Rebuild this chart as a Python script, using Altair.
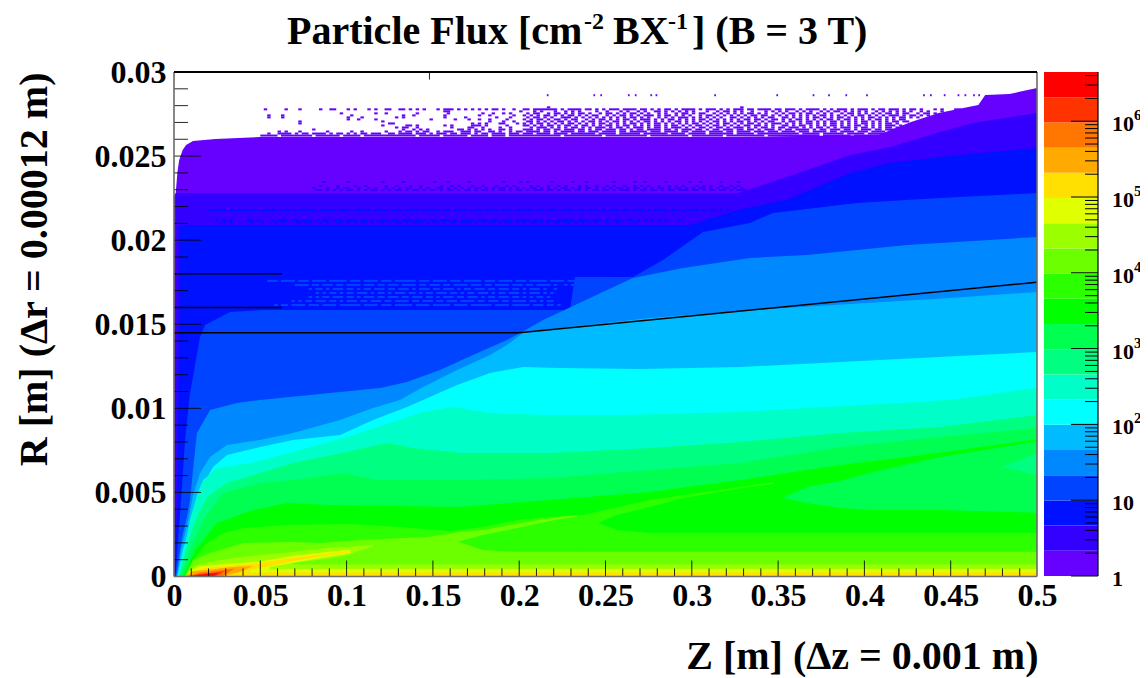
import altair as alt
import pandas as pd

alt.data_transformers.disable_max_rows()

SERIF = "Liberation Serif"
PAL = ["#6600ff", "#3300ff", "#0011ff", "#0044ff", "#0088ff", "#00bbff", "#00ffff", "#00ffc8", "#00ff80", "#00ff50",
       "#00ff00", "#2bff00", "#6cff00", "#9bff00", "#e0ff00", "#ffe000", "#ffaa00", "#ff7700", "#ff3300", "#ff0000"]
LEVELS = [1, 2.15, 4.62, 9.93, 21.4, 46, 98.9, 213, 457, 983, 2113, 4540, 9770, 21000, 45100, 97000, 208600, 448000,
          964000, 2073000, 4460000]

# Upper edge of each "flux above level" region: Z in m, R in mm
z0 = [0, .001, .002, .003, .005, .007, .011, .024, .05, .327, .362, .408, .427, .443, .466, .470, .484, .5]
r0 = [22.63, 22.80, 24.05, 24.77, 25.36, 25.66, 25.90, 26.02, 26.13, 26.13, 26.19, 26.25, 27.03, 27.56, 28.04, 28.63, 28.69, 29.05]
z1 = [.0002, .001, .327, .355, .392, .415, .444, .463, .5]
r1 = [0, 22.80, 22.80, 23.76, 25.07, 25.54, 26.43, 26.97, 27.56]
z2 = [.0005, .002, .003, .0032, .299, .327, .355, .392, .415, .444, .5]
r2 = [0, 4.55, 18.05, 20.90, 20.90, 21.80, 22.39, 24.00, 24.59, 24.95, 25.48]
z3 = [.0009, .0023, .0041, .0064, .0093, .0151, .018, .0324, .0527, .2294, .2323, .266, .2833, .3065, .3337, .347, .3957, .4438, .5]
r3 = [0, 2.17, 4.55, 8.12, 10.91, 14.24, 14.96, 15.73, 15.85, 15.85, 17.81, 17.81, 18.82, 20.49, 21.02, 21.62, 22.21, 22.51, 22.80]
z4 = [.0012, .0035, .0052, .0075, .0093, .011, .0133, .0209, .0365, .0498, .073, .0962, .1194, .135, .1541, .1732, .1929, .2016, .2138, .241, .2659, .2949, .3337, .3667, .4247, .5]
r4 = [0, 1.58, 2.59, 3.54, 4.55, 6.33, 8.53, 9.90, 10.32, 10.50, 10.73, 10.97, 11.21, 11.57, 12.28, 13.17, 14.06, 14.54, 15.25, 16.56, 17.75, 18.34, 18.94, 19.12, 19.71, 20.19]
z5 = [.0017, .0041, .0064, .0087, .011, .0151, .0209, .0307, .0498, .0689, .0962, .1153, .1309, .1443, .164, .1831, .1929, .2022, .2236, .2758, .3279, .3917, .4496, .5]
r5 = [0, 1.58, 2.59, 3.54, 4.85, 6.15, 7.11, 7.82, 8.12, 8.53, 9.31, 10.02, 10.50, 11.27, 12.28, 13.17, 13.77, 14.48, 14.78, 15.37, 15.79, 16.20, 16.56, 16.92]
z6 = [.002, .0052, .0081, .011, .0139, .0168, .0226, .0307, .0498, .0689, .0962, .1153, .135, .164, .1831, .2022, .2236, .27, .3279, .3859, .5]
r6 = [0, 1.58, 2.59, 3.54, 4.37, 5.44, 6.51, 7.22, 7.70, 8.12, 8.41, 9.31, 10.08, 11.39, 12.10, 12.46, 12.40, 12.34, 12.46, 12.75, 13.35]
z7 = [.0023, .0064, .0093, .0133, .0168, .0249, .044, .0689, .1002, .1251, .1443, .1616, .1831, .2178, .2567, .3279, .376, .4322, .4537, .5]
r7 = [0, 1.87, 3.36, 4.85, 5.74, 6.45, 6.75, 7.40, 8.30, 9.13, 9.78, 10.08, 9.72, 9.60, 9.60, 9.78, 10.08, 10.38, 10.56, 11.21]
z8 = [.0029, .007, .0104, .0133, .0191, .0307, .0689, .1002, .1234, .1385, .1657, .2178, .2758, .3279, .3859, .4438, .5]
r8 = [0, 1.58, 2.77, 3.54, 4.73, 5.56, 6.75, 7.40, 7.94, 7.64, 7.34, 7.34, 7.64, 8.00, 8.53, 8.89, 9.60]
z9 = [.0041, .0104, .0168, .0284, .0498, .0689, .0979, .1176, .1657, .2178, .2758, .3279, .3859, .4438, .5]
r9 = [0, 1.87, 3.36, 4.97, 5.56, 5.74, 6.15, 5.74, 5.74, 5.86, 6.33, 6.75, 7.70, 8.30, 8.83]
z10 = [.0052, .0122, .0249, .0458, .0655, .0886, .1657, .2178, .2758, .3279, .3859, .4247, .4977, .5]
r10 = [0, 1.58, 3.18, 3.95, 4.37, 4.25, 4.13, 4.55, 5.02, 5.74, 6.63, 7.11, 8.12, 8.18]
z11 = [.0058, .0122, .0191, .0284, .04, .0655, .1002, .1309, .1599, .179, .1987, .2178, .237, .2758, .3279, .347, .3492, .5]
r11 = [0, 1.10, 1.99, 2.59, 2.88, 3.06, 3.12, 2.94, 2.71, 2.94, 3.36, 3.54, 3.66, 4.55, 5.32, 5.62, 2.59, 2.59]
z12 = [.0064, .011, .0209, .04, .0689, .0846, .1078, .1466, .1657, .179, .1987, .2178, .2335, .234, .5]
r12 = [0, .98, 1.40, 1.99, 2.05, 1.99, 2.17, 2.35, 2.65, 2.77, 3.12, 3.48, 3.66, 1.47, 1.47]
z13 = [.007, .011, .0168, .0307, .0498, .0689, .0886, .1002, .1153, .1165, .5]
r13 = [0, .56, .80, 1.04, 1.28, 1.46, 1.69, 1.75, 1.87, .72, .72]
z14 = [.0075, .0093, .0151, .0307, .0498, .0689, .0886, .102, .103, .5]
r14 = [0, .39, .62, .74, .89, 1.22, 1.46, 1.61, .45, .45]
z15 = [.0075, .0104, .018, .0307, .0498, .0689, .0886, .1014, .102, .5]
r15 = [0, .27, .51, .62, .80, 1.10, 1.34, 1.52, .24, .24]
z16 = [.0064, .011, .0197, .0278, .0382, .0452]
r16 = [0, .33, .39, .51, .59, .62]
b16 = [0, 0, 0, 0, .27, .60]
z17 = [.007, .0151, .0278, .0353]
r17 = [0, .24, .39, .48]
b17 = [0, 0, 0, .47]
z18 = [.0075, .0151, .0238, .0295]
r18 = [0, .15, .24, .33]
b18 = [0, 0, 0, .32]
z19 = [.0087, .0139, .022, .0255]
r19 = [0, .09, .18, .21]
b19 = [0, 0, 0, .20]

# Low-flux lenses lying under the ridge: Z, upper R, lower R (mm)
lz_e0 = [.044, .0788, .1002, .1022]
lr_e0 = [.39, 1.10, 1.43, 1.45]
lb_e0 = [.24, .24, .24, .24]
lz_9b = [.0556, .0788, .1002, .1032]
lr_9b = [.57, 1.00, 1.35, 1.40]
lb_9b = [.45, .45, .45, .45]
lz_6c = [.0689, .0886, .1002, .1078, .1153, .1167]
lr_6c = [.80, 1.05, 1.25, 1.55, 1.78, 1.80]
lb_6c = [.72, .72, .72, .72, .72, .72]
lz_2b = [.1646, .179, .1987, .2178, .233, .2342]
lr_2b = [2.07, 2.47, 2.88, 3.30, 3.57, 3.60]
lb_2b = [2.07, 1.58, 1.47, 1.47, 1.47, 1.47]
lz_00 = [.2457, .2567, .2758, .2949, .3337, .348, .3495]
lr_00 = [3.18, 3.66, 4.13, 4.67, 5.32, 5.50, 5.52]
lb_00 = [3.18, 2.77, 2.59, 2.59, 2.59, 2.59, 2.59]
lz_50 = [.3523, .3667, .3859, .405, .4438, .4977, .5]
lr_50 = [4.67, 5.32, 5.68, 6.21, 7.11, 8.00, 8.03]
lb_50 = [4.67, 4.37, 4.07, 3.95, 3.95, 3.80, 3.77]
lz_80 = [.4797, .5]
lr_80 = [6.51, 7.34]
lb_80 = [6.51, 6.04]

# Sparse top bins: row of the R histogram -> bins filled, cell = 2 Z bins from z = 0.05
SPECK_Z0 = 0.05
SPECK_ROWS = {
    232: "." * 75 + "........#.......................................................#..........",
    231: ".#.....#...#.....#..##...#.#...#.#..##..##.#.#.#...#.###.#.#.#.#.#.##.#..#."
         ".##.#######.#.####.##.#.#.###.####.##.#.#.##.#.####.#.###.#.#.###.##.####.#"
         "#.###.#.####.#.#.###.#.###.#.##.###.#.##.#...#.#...##.#........",
    230: ".....................................................##...................."
         "#...#.#...#..#.#.#....#..#...#.#..#.#..##.#.#.#.#.#...#..#.##.#.#..#...#.#."
         "#.#..#.#.#..#.#.##.#.#.#.#..#.#.#.#.#.#..#.#...#...#.#..#......",
    229: ".......................#.........#..#........#........#.........#..#..#.#..."
         ".#.##..#.##.#.#.##.#..#.##.#.#.##.#.#..#.#..#.##.#.##..#.#.#.#.#.##.#.#..#"
         ".#.##.#.##.#.#.#..#.##.#.#.#.#.##.#.##..#.##.#",
    228: "..#...#...................#..............#..#........#.........#..#......#.."
         "#.#.#.##.#.#.##.#.#.##..#.#.##.#.#.###.#.##.#.#.#..#.##.#.#.#.#.#.##.##.#."
         "#.#.#.#.#.#.##.#.#.#.#.##.#.#.#.###.#.##.#.#",
    227: "..#...#..................#...#.........#.#...........#.....#........#...#..."
         ".#.##.#.#..###.#.#.#.#.#.#.#.#.##.#.#..#.#.#.###.#.#.#.#.#..##.#.#.#.#.##."
         ".##.#.#.#.##.#.#.##.#.#.#.##.#.#.#.##.#.#",
    226: ".........................#..#....#...............#......#...#..#..#....#...."
         "#.#.##.#.##.#.##..#.#.##.#.#.##.#.###.#.#.##.#.#.#.##.#.#.#.#.#.##.##.#.#"
         "#.#.#.##.#.#.#.##.#.##.#.#.#.##.#.#.##",
    225: "...........#.......................#..............................#...#..#.."
         ".##.#.#.#.##.#.#.#.##.#.#.##.#.#.#.##.#.#.#.##.#.#.#.#.##.#.#.##.#.#.#.##."
         ".#.##.#.##.#.#.##.#.#.#.##.#.#.#.##.##",
    224: "...........#.........................##......................#.#.#...##...#."
         "#.#.##.#.#.#.##.#.#.#.##.#.#.#.##.#.#.##.#.#.#.#.##.#.#.#.##.#.#.##.#.#.#"
         "##.#.#.#.##.#.#.##.#.#.#.##.#.#.##.#",
    223: "...................................#......##.#.......#.#.....###.#.....#...."
         "##.#.#.##.#.##.#.##.#.#.##.#.##.#.#.#.##.#.##.#.#.##.#.##.#.#.#.##.##.#.#."
         ".##.#.##.#.#.#.##.#.#.##.#.#.#.###.#",
    222: ".......................................#.##..#.........#....##..#....#..#...."
         ".#.###.#.#.#.##.#.#.###.#.##.#.###.#.##.#.###.#.#.##.#.##.#.###.#.#.##.#.#"
         "#.###.#.#.##.#.#.###.#.##.#.#.##.#",
    221: "...............#.........................#..#.#.#........##.#.#.#.#..##.#...#"
         "##.#.##.##.###.##.#.##.###.##.#.##.####.##.#.###.##.#.##.###.##.##.#.###.#"
         ".##.####.#.##.###.##.#.###.##.###",
    220: ".....#.#...#.......#......#..#......#...#.##.#.##..#.###..###.##..##.#..#.##"
         ".####.##.#.####.##.###.####.##.#####.###.####.##.####.####.##.####.###.###."
         "####.###.####.##.####.###.####.##",
    219: "..#..####.#.##.####.#.##.#.#.##.###..##.####.###.#.###.##.###.#.##.####.###."
         "###.####.####.#######.#####.######.#######.####.#####.#######.#####.#######"
         "#####.#####.######.#####.#######",
    218: "#####.#########.#######.#####.###############.######.#######.#####.####.#####"
         "##########.###########.############.###########.#########.###########.#####"
         "##########.########.###########",
}
TOP_DOTS_Z = [.216, .243, .247, .263, .267, .276, .279, .313, .349, .370, .379, .389, .401, .434, .438, .446, .454, .458, .463, .466]
TOP_DOTS_ROW = 238
BIN_R = 0.12

# Speckle between neighbouring levels inside the flat upper bands
VIOLET_Z0 = 0.08
VIOLET_ROWS = {
    195: "...#......#.........#.....#........#...#.....#.........#....#.#......#.....#...#.......#.....#..#.....#......#..#.....#....#....",
    193: "..#....#....#..#.....#..#...#..#.....#..#.#...#..#...#..#.#....#.#..#..#.#...#.#..#..#.#..#..#.#.#..#..#.#.#...#.#.#..#..#.#..",
    192: "#...#..#.##..#..#.#..#.#.#.##..#.#..##.#.#.#.#.##.#.#.##.#.#.#.##.#.#.#.##.#.#.##.#.#.#.##.#.##.#.#.##.#.##.#.#.##.#.#.##.#.#.",
    191: ".##.#.#.#.##.#.#.##.#.#.##.#.##.#.##.#.##.#.##.#.##.#.##.#.##.#.###.##.#.##.##.#.##.##.#.###.#.##.##.#.##.###.##.#.##.##.#.###",
}
DARK_Z0 = 0.02
DARK_ROWS = {
    181: "#####.########.#####.###.######.#####.###.#####.####.###.####.#####.##.####.###.####.###.#####.##.###.####.##.###.#.###.##.###.#.####.##.#.###.#.##.#.#",
    176: "..#.#.#....##.#...#.###.##.###.#.##.###.###.##.#.###.##.###.###.##.###.#.####.###.##.###.####.###.##.#####.###.###.#.###.##.#.#.#.#.#...#...",
    175: "....#.#.....#..#...#.#...##.##..#.#..##.#.#.##.#..#.#.##.#.###.#.##.#.##.###.#.#.##.#.##.#.#.##.#.#.##.##.#.#.#.#..#..#....#......",
}
MID_Z0 = 0.05
MID_ROWS = {
    146: "..###.####.###.####.#####.###.####.###.######.###.####.###.#####.###.####.###.#####.####.###.",
    144: "..........####.##.###.##.####.###.##.###.####.##.###.##.####.###.##.####.###.##.####.#..#.#.",
    142: "..............#.##.#.###.##.#.##.###.##.###.#.###.##.###.#.##.###.##.###.##.#.###.#..#..",
    140: "................#.#.##.#.##.###.#.##.#.###.##.#.##.###.##.#.##.###.#.##.###.#.###.#.#.",
    138: "..............#.#.##.###.##.#.###.##.###.##.###.##.#.###.##.###.#.##.###.##.#.#.##.#..",
    136: ".........#.#.##.###.##.#.###.##.###.##.####.##.###.##.###.####.##.###.##.####.##.#.##.",
    134: "....#.##.####.###.####.######.####.###.#####.####.#####.####.######.####.#####.###.##.#",
}
X_MAJOR = [0, .05, .1, .15, .2, .25, .3, .35, .4, .45, .5]
X_MINOR = [.01, .02, .03, .04, .06, .07, .08, .09, .11, .12, .13, .14, .16, .17, .18, .19, .21, .22, .23, .24, .26, .27,
           .28, .29, .31, .32, .33, .34, .36, .37, .38, .39, .41, .42, .43, .44, .46, .47, .48, .49]
Y_MAJOR = [0, .005, .01, .015, .02, .025, .03]
Y_MINOR = [.001, .002, .003, .004, .006, .007, .008, .009, .011, .012, .013, .014, .016, .017, .018, .019, .021, .022,
           .023, .024, .026, .027, .028, .029]
CB_DECADES = [1, 10, 100, 1000, 10000, 100000, 1000000]
CB_MINOR_STEPS = [2, 3, 4, 5, 6, 7, 8, 9]
CB_LABELS = [("1", "", 1), ("10", "", 10), ("10", "2", 100), ("10", "3", 1000), ("10", "4", 10000), ("10", "5", 100000), ("10", "6", 1000000)]

W, H = 863, 504.5
xs = alt.Scale(domain=[0, .5], nice=False, zero=False)
ys = alt.Scale(domain=[0, .03], nice=False, zero=False)


def region(color, z, r, b=None):
    b = b if b is not None else [0] * len(z)
    df = pd.DataFrame({"z": z, "r": [v / 1000 for v in r], "b": [v / 1000 for v in b]})
    return alt.Chart(df).mark_area(color=color, interpolate="linear").encode(
        x=alt.X("z:Q", scale=xs, axis=None),
        y=alt.Y("r:Q", scale=ys, axis=None, stack=None),
        y2="b:Q",
    )


def mask(rows, z0, color):
    out = []
    for row, s in rows.items():
        i = 0
        while i < len(s):
            if s[i] == "#":
                j = i
                while j < len(s) and s[j] == "#":
                    j += 1
                out.append((z0 + .002 * i, z0 + .002 * j, row * BIN_R / 1000, (row + 1) * BIN_R / 1000))
                i = j
            else:
                i += 1
    return out


def rects(cells, color):
    return alt.Chart(pd.DataFrame(cells, columns=["a", "b", "c", "d"])).mark_rect(color=color).encode(
        x=alt.X("a:Q", scale=xs, axis=None), x2="b:Q", y=alt.Y("c:Q", scale=ys, axis=None), y2="d:Q")


cells = mask(SPECK_ROWS, SPECK_Z0, PAL[0])
for z in TOP_DOTS_Z:
    cells.append((z, z + .001, TOP_DOTS_ROW * BIN_R / 1000, (TOP_DOTS_ROW + 1) * BIN_R / 1000))

layers = [rects(cells, PAL[0])]
ups = [(z0, r0), (z1, r1), (z2, r2), (z3, r3), (z4, r4), (z5, r5), (z6, r6), (z7, r7), (z8, r8), (z9, r9), (z10, r10),
       (z11, r11), (z12, r12), (z13, r13), (z14, r14), (z15, r15)]
for k, (z, r) in enumerate(ups):
    layers.append(region(PAL[k], z, r))
layers += [
    region(PAL[16], z16, r16, b16), region(PAL[17], z17, r17, b17), region(PAL[18], z18, r18, b18), region(PAL[19], z19, r19, b19),
    region(PAL[14], lz_e0, lr_e0, lb_e0), region(PAL[13], lz_9b, lr_9b, lb_9b), region(PAL[12], lz_6c, lr_6c, lb_6c),
    region(PAL[11], lz_2b, lr_2b, lb_2b), region(PAL[10], lz_00, lr_00, lb_00), region(PAL[9], lz_50, lr_50, lb_50),
    region(PAL[8], lz_80, lr_80, lb_80),
    rects(mask(VIOLET_ROWS, VIOLET_Z0, PAL[1]), PAL[1]),
    rects(mask(DARK_ROWS, DARK_Z0, PAL[2]), PAL[2]),
    rects(mask(MID_ROWS, MID_Z0, PAL[3]), PAL[3]),
]


def rules(rows, color="black", width=1.0, opacity=1.0):
    df = pd.DataFrame(rows, columns=["x1", "x2", "y1", "y2"])
    return alt.Chart(df).mark_rule(color=color, strokeWidth=width, opacity=opacity).encode(
        x=alt.X("x1:Q", scale=xs, axis=None), x2="x2:Q", y=alt.Y("y1:Q", scale=ys, axis=None), y2="y2:Q")


# detector lines
layers.append(rules([(0, .0625, .018, .018), (0, .0625, .016, .016), (0, .2, .0145, .0145), (.2, .5, .0145, .0175)], width=1.5))
# ticks drawn inward
TK_X_MAJ = .00095
TK_X_MIN = .00048
TK_Y_MAJ = .0157
TK_Y_MIN = .0081
tick_rows = [(v, v, 0, TK_X_MAJ) for v in X_MAJOR[1:-1]] + [(v, v, 0, TK_X_MIN) for v in X_MINOR]
tick_rows += [(0, TK_Y_MAJ, v, v) for v in Y_MAJOR[1:-1]] + [(0, TK_Y_MIN, v, v) for v in Y_MINOR]
tick_rows += [(.148, .148, .03, .02955)]
layers.append(rules(tick_rows, opacity=.85))
layers.append(rules([(0, 0, 0, .03), (0, .5, 0, 0), (.5, .5, 0, .03)], color="#6b6b6b", width=1.6))
layers.append(rules([(0, .5, .03, .03)], width=1.8))


def title_piece(text, x, y, size):
    return alt.Chart(pd.DataFrame({"t": [text]})).mark_text(
        font=SERIF, fontWeight="bold", fontSize=size, color="black", align="left", baseline="middle"
    ).encode(text="t:N", x=alt.value(x), y=alt.value(y))


layers += [
    title_piece("Particle Flux [cm", 113, -40, 40),
    title_piece("-2", 410, -50, 24),
    title_piece("BX", 439, -40, 40),
    title_piece("-1", 494, -50, 24),
    title_piece("] (B = 3 T)", 518, -40, 40),
]

# axes carrying tick labels and titles
axis_base = alt.Chart(pd.DataFrame({"z": [0, .5], "r": [0, .03]})).mark_point(opacity=0).encode(
    x=alt.X("z:Q", scale=xs, axis=alt.Axis(
        values=X_MAJOR, format="~g", ticks=False, domain=False, grid=False, labelFont=SERIF, labelFontWeight="bold",
        labelFontSize=32, labelColor="black", labelPadding=4, labelOverlap=False, labelFlush=False,
        title="Z [m] (Δz = 0.001 m)", titleFont=SERIF, titleFontWeight="bold", titleFontSize=40, titleColor="black",
        titleAlign="right", titleBaseline="middle", titleX=864, titleY=80)),
    y=alt.Y("r:Q", scale=ys, axis=alt.Axis(
        values=Y_MAJOR, format="~g", ticks=False, domain=False, grid=False, labelFont=SERIF, labelFontWeight="bold",
        labelFontSize=32, labelColor="black", labelPadding=8, labelOverlap=False, labelFlush=False,
        title="R [m] (Δr = 0.00012 m)", titleFont=SERIF, titleFontWeight="bold", titleFontSize=40, titleColor="black",
        titleAngle=-90, titleAlign="right", titleBaseline="middle", titleX=-140, titleY=0)),
)

# colour bar with its own scales
cb_x = alt.Scale(domain=[0, 1], range=[870, 924], nice=False, zero=False)
cb_y = alt.Scale(type="log", domain=[1, 4460000], range=[504, 0], nice=False)
cb_df = pd.DataFrame({"lo": LEVELS[:-1], "hi": LEVELS[1:], "c": PAL, "a": [0] * 20, "b": [1] * 20})
cb_bands = alt.Chart(cb_df).mark_rect().encode(
    x=alt.X("a:Q", scale=cb_x, axis=None), x2="b:Q",
    y=alt.Y("lo:Q", scale=cb_y, axis=None), y2="hi:Q",
    color=alt.Color("c:N", scale=None, legend=None),
)
cb_ticks = [(.5, 1, d) for d in CB_DECADES] + [(.76, 1, d * m) for d in CB_DECADES for m in CB_MINOR_STEPS if d * m < 4460000]
cb_tk = alt.Chart(pd.DataFrame(cb_ticks, columns=["a", "b", "v"])).mark_rule(color="black", strokeWidth=1).encode(
    x=alt.X("a:Q", scale=cb_x, axis=None), x2="b:Q", y=alt.Y("v:Q", scale=cb_y, axis=None))
cb_line = alt.Chart(pd.DataFrame({"a": [1], "lo": [1], "hi": [4460000]})).mark_rule(color="black", strokeWidth=1.2).encode(
    x=alt.X("a:Q", scale=cb_x, axis=None), y=alt.Y("lo:Q", scale=cb_y, axis=None), y2="hi:Q")
lab_df = pd.DataFrame(CB_LABELS, columns=["base", "exp", "v"])
cb_lab = alt.Chart(lab_df).mark_text(font=SERIF, fontWeight="bold", fontSize=22, color="black", align="left", baseline="middle", dy=3).encode(
    text="base:N", x=alt.value(938), y=alt.Y("v:Q", scale=cb_y, axis=None))
cb_exp = alt.Chart(lab_df[lab_df.exp != ""]).mark_text(font=SERIF, fontWeight="bold", fontSize=15, color="black", align="left", baseline="middle", dy=-6).encode(
    text="exp:N", x=alt.value(960), y=alt.Y("v:Q", scale=cb_y, axis=None))

chart = alt.layer(*layers, axis_base, cb_bands, cb_tk, cb_line, cb_lab, cb_exp).resolve_scale(x="independent", y="independent").properties(
    width=W, height=H, background="white",
    autosize=alt.AutoSizeParams(type="none"),
    padding={"left": 166, "top": 64, "right": 103, "bottom": 100},
).configure_view(stroke=None)

chart.save("out.html", embed_options={"renderer": "svg", "actions": False})
